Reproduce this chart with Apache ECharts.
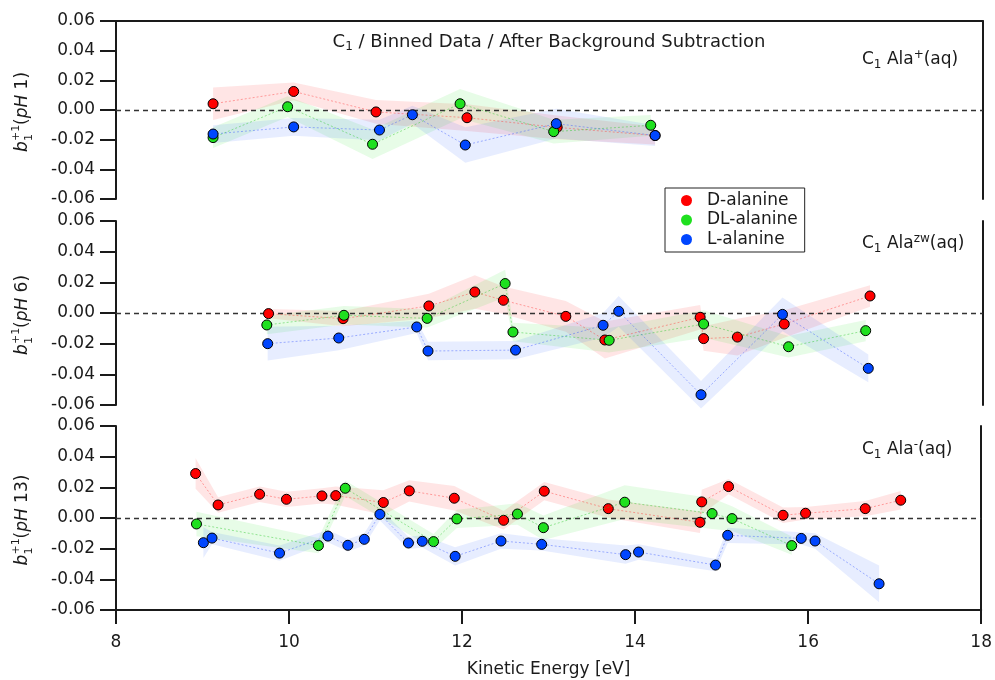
<!DOCTYPE html>
<html><head><meta charset="utf-8">
<script src="https://cdn.jsdelivr.net/npm/echarts@6/dist/echarts.min.js"></script>
<style>html,body{margin:0;padding:0;background:#fff}#c{width:995px;height:680px}</style>
</head><body><div id="c"></div><script>
// ---------- tick labels ----------
const xTicks = [8, 10, 12, 14, 16, 18];
const yTicks = [-0.06, -0.04, -0.02, 0.00, 0.02, 0.04, 0.06];
const speciesNames = ['D-alanine', 'DL-alanine', 'L-alanine'];
const panelLabels = ['1', '6', '13'];
const panelIons = ['+', 'zw', '-'];

// ---------- pH 1 ----------
const pH1_D_x   = [9.12, 10.05, 11.00, 12.05, 13.09, 14.22];
const pH1_D_y   = [0.0042, 0.0125, -0.0013, -0.0052, -0.0117, -0.0172];
const pH1_D_err = [0.011, 0.006, 0.008, 0.009, 0.008, 0.006];
const pH1_DL_x   = [9.12, 9.98, 10.96, 11.97, 13.05, 14.17];
const pH1_DL_y   = [-0.0186, 0.0022, -0.0231, 0.0042, -0.0146, -0.0103];
const pH1_DL_err = [0.007, 0.007, 0.010, 0.010, 0.008, 0.007];
const pH1_L_x   = [9.12, 10.05, 11.04, 11.42, 12.03, 13.08, 14.22];
const pH1_L_y   = [-0.0162, -0.0114, -0.0135, -0.0032, -0.0236, -0.0092, -0.0172];
const pH1_L_err = [0.006, 0.006, 0.007, 0.006, 0.012, 0.010, 0.007];

// ---------- pH 6 ----------
const pH6_D_x   = [9.76, 10.62, 11.61, 12.14, 12.47, 13.19, 13.64, 14.74, 14.78, 15.17, 15.71, 16.70];
const pH6_D_y   = [-0.0004, -0.0037, 0.0046, 0.0137, 0.0083, -0.0022, -0.0176, -0.0028, -0.0167, -0.0157, -0.0072, 0.0111];
const pH6_D_err = [0.003, 0.005, 0.008, 0.011, 0.009, 0.010, 0.012, 0.008, 0.008, 0.012, 0.009, 0.007];
const pH6_DL_x   = [9.74, 10.63, 11.59, 12.49, 12.58, 13.69, 14.78, 15.76, 16.65];
const pH6_DL_y   = [-0.0078, -0.0015, -0.0035, 0.0192, -0.0124, -0.0178, -0.0072, -0.0220, -0.0115];
const pH6_DL_err = [0.006, 0.006, 0.006, 0.009, 0.006, 0.008, 0.009, 0.007, 0.007];
const pH6_L_x   = [9.75, 10.57, 11.47, 11.60, 12.61, 13.62, 13.80, 14.75, 15.69, 16.68];
const pH6_L_y   = [-0.0200, -0.0163, -0.0091, -0.0248, -0.0242, -0.0080, 0.0011, -0.0533, -0.0009, -0.0361];
const pH6_L_err = [0.011, 0.008, 0.004, 0.006, 0.006, 0.008, 0.010, 0.009, 0.011, 0.009];

// ---------- pH 13 ----------
const pH13_D_x   = [8.92, 9.18, 9.66, 9.97, 10.38, 10.54, 11.09, 11.39, 11.91, 12.48, 12.95, 13.69, 14.75, 14.77, 15.08, 15.71, 15.97, 16.66, 17.07];
const pH13_D_y   = [0.0290, 0.0085, 0.0155, 0.0122, 0.0144, 0.0146, 0.0101, 0.0177, 0.0129, -0.0015, 0.0175, 0.0061, -0.0028, 0.0105, 0.0205, 0.0018, 0.0031, 0.0061, 0.0116];
const pH13_D_err = [0.010, 0.005, 0.005, 0.005, 0.005, 0.006, 0.008, 0.007, 0.008, 0.006, 0.006, 0.006, 0.007, 0.008, 0.005, 0.005, 0.004, 0.005, 0.006];
const pH13_DL_x   = [8.93, 10.34, 10.65, 11.67, 11.94, 12.64, 12.94, 13.88, 14.89, 15.12, 15.81];
const pH13_DL_y   = [-0.0039, -0.0180, 0.0194, -0.0154, -0.0006, 0.0026, -0.0063, 0.0103, 0.0029, -0.0004, -0.0180];
const pH13_DL_err = [0.008, 0.005, 0.005, 0.005, 0.006, 0.007, 0.008, 0.011, 0.010, 0.008, 0.006];
const pH13_L_x   = [9.01, 9.11, 9.89, 10.45, 10.68, 10.87, 11.05, 11.38, 11.54, 11.92, 12.45, 12.92, 13.89, 14.04, 14.93, 15.07, 15.92, 16.08, 16.82];
const pH13_L_y   = [-0.0161, -0.0131, -0.0229, -0.0118, -0.0178, -0.0139, 0.0024, -0.0163, -0.0152, -0.0250, -0.0150, -0.0172, -0.0239, -0.0222, -0.0307, -0.0113, -0.0133, -0.0150, -0.0429];
const pH13_L_err = [0.010, 0.004, 0.005, 0.004, 0.004, 0.004, 0.004, 0.004, 0.004, 0.006, 0.005, 0.004, 0.006, 0.005, 0.004, 0.005, 0.004, 0.005, 0.012];

const panels = [
  [[pH1_D_x, pH1_D_y, pH1_D_err], [pH1_DL_x, pH1_DL_y, pH1_DL_err], [pH1_L_x, pH1_L_y, pH1_L_err]],
  [[pH6_D_x, pH6_D_y, pH6_D_err], [pH6_DL_x, pH6_DL_y, pH6_DL_err], [pH6_L_x, pH6_L_y, pH6_L_err]],
  [[pH13_D_x, pH13_D_y, pH13_D_err], [pH13_DL_x, pH13_DL_y, pH13_DL_err], [pH13_L_x, pH13_L_y, pH13_L_err]]
];

// ---------- styling ----------
const F = 'DejaVu Sans';
const INK = '#1a1a1a';
const pointColors = ['#ff0000', '#1fe01f', '#0046ff'];
const bandColors = ['rgba(255,40,40,0.12)', 'rgba(40,230,40,0.11)', 'rgba(40,90,255,0.11)'];
const lineColors = ['rgba(255,60,60,0.45)', 'rgba(40,200,40,0.45)', 'rgba(60,90,255,0.45)'];
const grids = [
  {left: 116, top: 21, width: 866.7, height: 178},
  {left: 116, top: 221, width: 866.7, height: 184},
  {left: 116, top: 426, width: 866.7, height: 184}
];

const xAxes = [], yAxes = [], series = [];
grids.forEach((g, i) => {
  const isBottom = i === 2;
  xAxes.push({
    type: 'value', gridIndex: i, min: xTicks[0], max: xTicks[xTicks.length - 1], interval: 2,
    position: i === 0 ? 'top' : 'bottom',
    show: i !== 1,
    axisLine: {show: true, onZero: false, lineStyle: {color: INK, width: 2}},
    axisTick: {show: isBottom, inside: false, length: 14, lineStyle: {color: INK, width: 2}},
    axisLabel: {show: isBottom, margin: 24, fontFamily: F, fontSize: 17, color: INK},
    splitLine: {show: false},
    name: isBottom ? 'Kinetic Energy [eV]' : '',
    nameLocation: 'middle', nameGap: 51,
    nameTextStyle: {fontFamily: F, fontSize: 17, color: INK}
  });
  yAxes.push({
    type: 'value', gridIndex: i, min: yTicks[0], max: yTicks[yTicks.length - 1], interval: 0.02,
    position: 'left',
    axisLine: {show: true, onZero: false, lineStyle: {color: INK, width: 2}},
    axisTick: {show: true, inside: false, length: 16, lineStyle: {color: INK, width: 2}},
    axisLabel: {margin: 21, fontFamily: F, fontSize: 17, color: INK,
      formatter: v => (Math.abs(v) < 1e-9 ? 0 : v).toFixed(2)},
    splitLine: {show: false}
  });
  yAxes.push({
    type: 'value', gridIndex: i, min: yTicks[0], max: yTicks[yTicks.length - 1], interval: 0.02,
    position: 'right',
    axisLine: {show: true, onZero: false, lineStyle: {color: INK, width: 2}},
    axisTick: {show: false}, axisLabel: {show: false}, splitLine: {show: false}
  });

  panels[i].forEach((sp, k) => {
    const [xs, ys, es] = sp;
    const lo = ys.map((v, j) => v - es[j]);
    const hi = ys.map((v, j) => v + es[j]);
    series.push({
      type: 'custom', name: 'band' + i + k, xAxisIndex: i, yAxisIndex: 2 * i,
      silent: true, z: 1, animation: false,
      data: xs.map((x, j) => [x, lo[j], hi[j]]),
      encode: {x: 0, y: [1, 2]},
      renderItem: (params, api) => {
        if (params.dataIndex !== 0) return null;
        const top = xs.map((x, j) => api.coord([x, hi[j]]));
        const bot = xs.map((x, j) => api.coord([x, lo[j]])).reverse();
        return {type: 'polygon', shape: {points: top.concat(bot)},
          style: {fill: bandColors[k]}, silent: true};
      }
    });
    const s = {
      type: 'line', name: speciesNames[k], xAxisIndex: i, yAxisIndex: 2 * i,
      data: xs.map((x, j) => [x, ys[j]]),
      symbol: 'circle', symbolSize: 10, z: 5 + k, animation: false,
      itemStyle: {color: pointColors[k], borderColor: '#000', borderWidth: 1},
      lineStyle: {color: lineColors[k], width: 1, type: [2, 2]},
      emphasis: {disabled: true}
    };
    if (k === 0) {
      s.markLine = {silent: true, symbol: 'none', animation: false,
        label: {show: false},
        lineStyle: {color: '#333', width: 1.3, type: [5, 4]},
        data: [{yAxis: 0}]};
    }
    series.push(s);
  });
});

// ---------- text helpers ----------
function richStyles(size) {
  return {
    m: {fontFamily: F, fontSize: size, fill: INK, lineHeight: 22},
    s: {fontFamily: F, fontSize: 12, fill: INK, lineHeight: 13, verticalAlign: 'bottom'},
    u: {fontFamily: F, fontSize: 12, fill: INK, lineHeight: 13, verticalAlign: 'top'},
    i: {fontFamily: F, fontSize: size, fill: INK, lineHeight: 22, fontStyle: 'italic'}
  };
}
const cornerY = [60, 244, 450];
const graphics = [{
  type: 'text', x: 549, y: 42, z: 50,
  style: {text: '{m|C}{s|1}{m| / Binned Data / After Background Subtraction}',
    rich: richStyles(18), align: 'center', verticalAlign: 'middle'}
}];
panelIons.forEach((ion, i) => {
  graphics.push({
    type: 'text', x: 862, y: cornerY[i], z: 50,
    style: {text: '{m|C}{s|1}{m| Ala}{u|' + ion + '}{m|(aq)}',
      rich: richStyles(17), align: 'left', verticalAlign: 'middle'}
  });
});
panelLabels.forEach((ph, i) => {
  const g = grids[i];
  const cy = g.top + g.height / 2 + 2;
  const len = 80 + (ph.length - 1) * 11;
  const x0 = -len / 2;
  graphics.push({
    type: 'group', x: 23, y: cy, rotation: Math.PI / 2, z: 50,
    children: [
      {type: 'text', x: x0, y: 0, style: {text: 'b', fontFamily: F, fontSize: 17, fontStyle: 'italic', fill: INK, align: 'left', verticalAlign: 'middle'}},
      {type: 'text', x: x0 + 11, y: -7, style: {text: '+1', fontFamily: F, fontSize: 11, fill: INK, align: 'left', verticalAlign: 'middle'}},
      {type: 'text', x: x0 + 11, y: 6, style: {text: '1', fontFamily: F, fontSize: 11, fill: INK, align: 'left', verticalAlign: 'middle'}},
      {type: 'text', x: x0 + 27, y: 0, style: {text: '{m|(}{i|pH}{m| ' + ph + ')}', rich: richStyles(17), align: 'left', verticalAlign: 'middle'}}
    ]
  });
});

const chart = echarts.init(document.getElementById('c'), null, {renderer: 'canvas'});
chart.setOption({
  animation: false,
  backgroundColor: '#fff',
  grid: grids,
  xAxis: xAxes,
  yAxis: yAxes,
  legend: {
    data: speciesNames, orient: 'vertical', left: 665, top: 188,
    icon: 'circle', itemWidth: 11, itemHeight: 11, itemGap: 2.5,
    padding: [4, 7, 4, 16],
    borderColor: '#222', borderWidth: 1, backgroundColor: '#fff',
    itemStyle: {borderWidth: 0},
    textStyle: {fontFamily: F, fontSize: 17, color: INK, padding: [0, 0, 0, 10]},
    selectedMode: false
  },
  graphic: graphics,
  series: series
});
</script></body></html>
